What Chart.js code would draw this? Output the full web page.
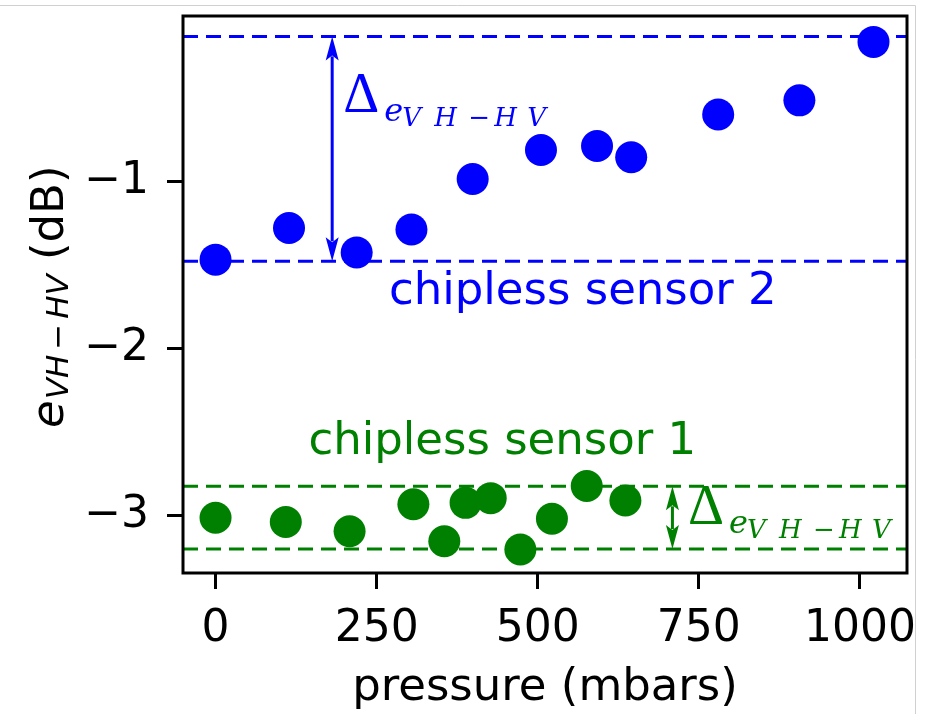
<!DOCTYPE html>
<html>
<head>
<meta charset="utf-8">
<script src="https://cdn.jsdelivr.net/npm/chart.js@4.4.1/dist/chart.umd.min.js"></script>
<style>
body { margin: 0; background: #fff; }
#wrap { width: 929px; height: 714px; }
</style>
</head>
<body>
<div id="wrap"><canvas id="chart" width="929" height="714"></canvas></div>
<script>
// chipless sensor 2 (blue)
let pressure2 = [0, 114, 219, 304, 399, 505, 592, 645, 780, 906, 1021];
let e2 = [-1.469, -1.279, -1.426, -1.288, -0.986, -0.812, -0.788, -0.856, -0.600, -0.515, -0.165];
// chipless sensor 1 (green)
let pressure1 = [0, 109, 208, 307, 355, 388, 427, 473, 522, 576, 636];
let e1 = [-3.014, -3.040, -3.095, -2.933, -3.155, -2.925, -2.897, -3.204, -3.020, -2.824, -2.911];
// dashed limits (top, bottom)
let band2 = [-0.132, -1.479];
let band1 = [-2.826, -3.202];
let arrowX = [181, 709];
let xTicks = [0, 250, 500, 750, 1000];
let yTicks = [-1, -2, -3];
let xRange = [-50.5, 1073];
let yRange = [-3.345, -0.01];

const blue = '#0000ff';
const green = '#008000';
const font = '"DejaVu Sans", sans-serif';

function pts(xs, ys) {
    return xs.map((v, i) => ({x: v, y: ys[i]}));
}
function hline(v, col) {
    return {
        type: 'line',
        data: [{x: xRange[0], y: v}, {x: xRange[1], y: v}],
        borderColor: col,
        borderWidth: 3,
        borderDash: [15, 8],
        pointRadius: 0,
        showLine: true
    };
}

function drawArrow(ctx, px, y1, y2, col) {
    let hl = 24, hw = 6.5;
    ctx.strokeStyle = col;
    ctx.fillStyle = col;
    ctx.lineWidth = 3;
    ctx.beginPath();
    ctx.moveTo(px, y1 + hl - 4);
    ctx.lineTo(px, y2 - hl + 4);
    ctx.stroke();
    ctx.beginPath();
    ctx.moveTo(px, y1);
    ctx.lineTo(px - hw, y1 + hl);
    ctx.lineTo(px, y1 + hl - 5);
    ctx.lineTo(px + hw, y1 + hl);
    ctx.closePath();
    ctx.fill();
    ctx.beginPath();
    ctx.moveTo(px, y2);
    ctx.lineTo(px - hw, y2 - hl);
    ctx.lineTo(px, y2 - hl + 5);
    ctx.lineTo(px + hw, y2 - hl);
    ctx.closePath();
    ctx.fill();
}

function drawDelta(ctx, px, py, col) {
    ctx.fillStyle = col;
    ctx.textAlign = 'left';
    ctx.textBaseline = 'alphabetic';
    ctx.font = '56px "Liberation Serif", serif';
    ctx.fillText('\u0394', px, py);
    ctx.font = 'italic 32px "DejaVu Serif", serif';
    ctx.fillText('e', px + 41, py + 9);
    let parts = [['V', 59], ['H', 91], ['\u2212', 125], ['H', 151], ['V', 184]];
    parts.forEach(p => {
        ctx.font = (p[0] == '\u2212' ? '' : 'italic ') + '26px "DejaVu Serif", serif';
        ctx.fillText(p[0], px + p[1], py + 14.5);
    });
}

const deco = {
    id: 'deco',
    afterDraw(chart) {
        const ctx = chart.ctx;
        const a = chart.chartArea;
        const x = chart.scales.x, y = chart.scales.y;
        ctx.save();
        // frame
        ctx.strokeStyle = '#000';
        ctx.lineWidth = 3;
        ctx.strokeRect(a.left, a.top, a.right - a.left, a.bottom - a.top);

        drawArrow(ctx, x.getPixelForValue(arrowX[0]), y.getPixelForValue(band2[0]), y.getPixelForValue(band2[1]), blue);
        drawArrow(ctx, x.getPixelForValue(arrowX[1]), y.getPixelForValue(band1[0]), y.getPixelForValue(band1[1]), green);
        drawDelta(ctx, x.getPixelForValue(198), y.getPixelForValue(-0.584), blue);
        drawDelta(ctx, x.getPixelForValue(733), y.getPixelForValue(-3.049), green);

        ctx.font = '45px ' + font;
        ctx.textBaseline = 'alphabetic';
        ctx.textAlign = 'center';
        ctx.fillStyle = blue;
        ctx.fillText('chipless sensor 2', x.getPixelForValue(570), y.getPixelForValue(-1.733));
        ctx.fillStyle = green;
        ctx.fillText('chipless sensor 1', x.getPixelForValue(445), y.getPixelForValue(-2.633));

        // x title
        ctx.fillStyle = '#000';
        ctx.fillText('pressure (mbars)', (a.left + a.right) / 2, 700);

        // y title with subscript
        ctx.translate(63, 428);
        ctx.rotate(-Math.PI / 2);
        ctx.textAlign = 'left';
        ctx.font = 'oblique 45px ' + font;
        ctx.fillText('e', 0, 0);
        let w = ctx.measureText('e').width + 1;
        ctx.font = 'oblique 31px ' + font;
        ctx.fillText('VH', w, 5);
        w += ctx.measureText('VH').width + 5;
        ctx.font = '31px ' + font;
        ctx.fillText('\u2212', w, 5);
        w += ctx.measureText('\u2212').width + 5;
        ctx.font = 'oblique 31px ' + font;
        ctx.fillText('HV', w, 5);
        w += ctx.measureText('HV').width;
        ctx.font = '45px ' + font;
        ctx.fillText(' (dB)', w, 0);
        ctx.restore();

        // light frame of the screenshot
        ctx.save();
        ctx.strokeStyle = '#d0d0d0';
        ctx.lineWidth = 1;
        ctx.beginPath();
        ctx.moveTo(0, 5.5);
        ctx.lineTo(915.5, 5.5);
        ctx.lineTo(915.5, 714);
        ctx.stroke();
        ctx.restore();
    }
};

let ctx = document.getElementById('chart').getContext('2d');
new Chart(ctx, {
    type: 'scatter',
    data: {
        datasets: [
            hline(band2[0], blue),
            hline(band2[1], blue),
            hline(band1[0], green),
            hline(band1[1], green),
            {
                data: pts(pressure2, e2),
                backgroundColor: blue,
                borderWidth: 0,
                pointRadius: 16
            },
            {
                data: pts(pressure1, e1),
                backgroundColor: green,
                borderWidth: 0,
                pointRadius: 16
            }
        ]
    },
    options: {
        responsive: false,
        animation: false,
        events: [],
        layout: { padding: { left: 0, right: 22, top: 12, bottom: 0 } },
        plugins: { legend: { display: false }, tooltip: { enabled: false } },
        scales: {
            x: {
                type: 'linear',
                min: xRange[0],
                max: xRange[1],
                afterBuildTicks: s => { s.ticks = xTicks.map(v => ({value: v})); },
                afterFit: s => { s.height = 714 - 573; s.paddingLeft = 0; s.paddingRight = 0; },
                border: { display: false },
                grid: { drawOnChartArea: false, drawTicks: true, tickLength: 16, tickWidth: 3, tickColor: '#000' },
                ticks: {
                    color: '#000', padding: 14, maxRotation: 0, autoSkip: false,
                    font: { family: 'DejaVu Sans', size: 44 },
                    callback: v => String(v)
                }
            },
            y: {
                type: 'linear',
                min: yRange[0],
                max: yRange[1],
                afterBuildTicks: s => { s.ticks = yTicks.map(v => ({value: v})); },
                afterFit: s => { s.width = 183; s.paddingTop = 0; s.paddingBottom = 0; },
                border: { display: false },
                grid: { drawOnChartArea: false, drawTicks: true, tickLength: 16, tickWidth: 3, tickColor: '#000' },
                ticks: {
                    color: '#000', padding: 18, autoSkip: false,
                    font: { family: 'DejaVu Sans', size: 44 },
                    callback: v => String(v).replace('-', '\u2212')
                }
            }
        }
    },
    plugins: [deco]
});
</script>
</body>
</html>
